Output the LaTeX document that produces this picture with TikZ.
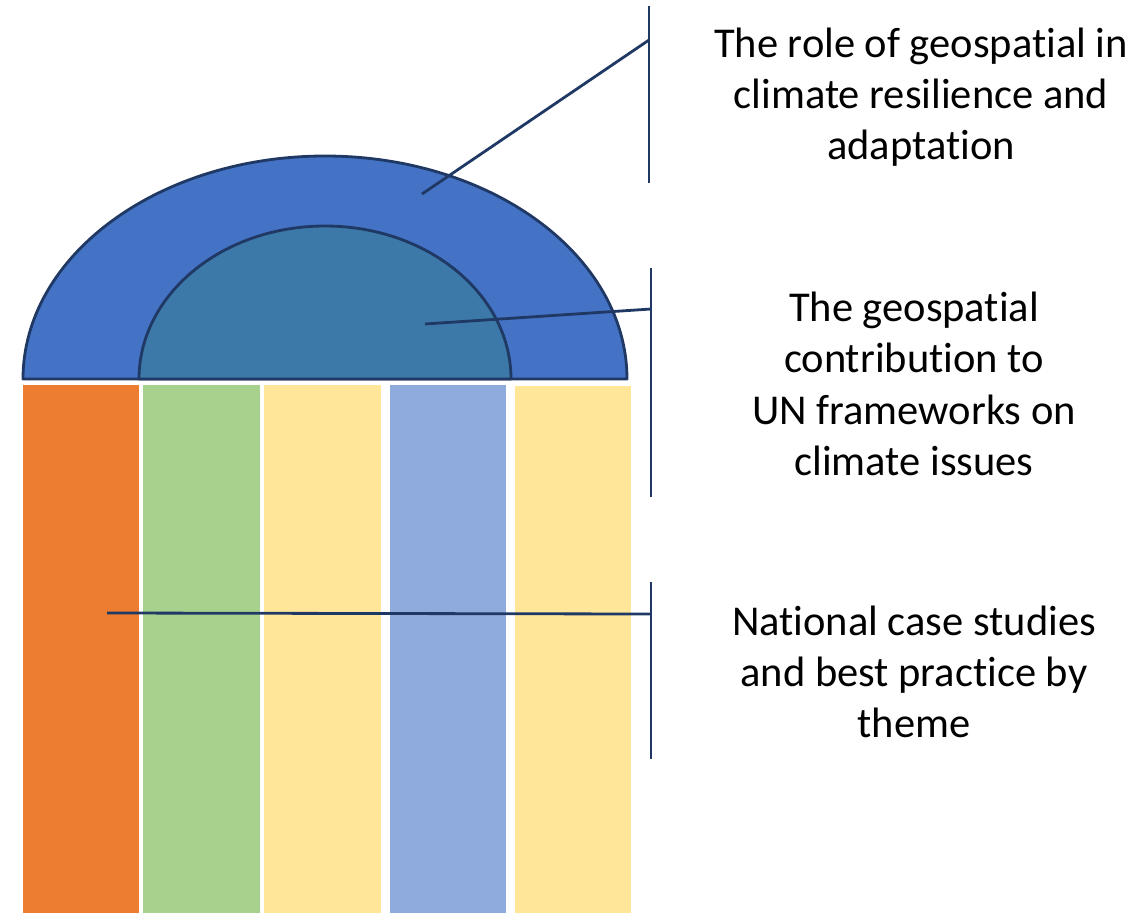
\documentclass[tikz,border=0pt]{standalone}
\usepackage{fontspec}
\setmainfont[Ligatures=NoCommon]{Carlito}
\definecolor{navy}{HTML}{1F3864}
\definecolor{outerblue}{HTML}{4472C4}
\definecolor{innerblue}{HTML}{3C79A9}
\definecolor{porange}{HTML}{ED7D31}
\definecolor{pgreen}{HTML}{A9D18E}
\definecolor{pyellow}{HTML}{FFE699}
\definecolor{pblue}{HTML}{8FAADC}
\newcommand{\nl}{\kern0pt }
\tikzset{
  pillar/.style={draw=none},
  archline/.style={draw=navy, line width=2.8pt, line join=round},
  callout/.style={draw=navy, line width=2.8pt},
  label/.style={align=center, font=\fontsize{42.5}{51.3}\selectfont, text=black, inner sep=0pt}
}
\begin{document}
\begin{tikzpicture}[x=1pt,y=1pt]
\useasboundingbox (0,0) rectangle (1145,-913);
% pillars
\fill[porange] (23,-385) rectangle (139,-913);
\fill[pgreen] (143,-385) rectangle (260,-913);
\fill[pyellow] (264,-385) rectangle (381,-913);
\fill[pblue] (390,-385) rectangle (506,-913);
\fill[pyellow] (515,-386) rectangle (631,-913);
% arches
\draw[archline, fill=outerblue] (23,-379) arc[start angle=180, end angle=0, x radius=302, y radius=223] -- cycle;
\draw[archline, fill=innerblue] (139,-379) arc[start angle=180, end angle=0, x radius=186, y radius=153] -- cycle;
% callout brackets
\coordinate (b1t) at (649,-6);
\coordinate (b1b) at (649,-183);
\coordinate (b1m) at (649,-40);
\coordinate (a1) at (422,-194);
\coordinate (b2t) at (651,-268);
\coordinate (b2b) at (651,-497);
\coordinate (b2m) at (651,-309);
\coordinate (a2) at (425,-324);
\coordinate (b3t) at (651,-582);
\coordinate (b3b) at (651,-759);
\coordinate (b3m) at (651,-614);
\coordinate (a3) at (107,-613);
\draw[callout] (b1t) -- (b1b);
\draw[callout] (a1) -- (b1m);
\draw[callout] (b2t) -- (b2b);
\draw[callout] (a2) -- (b2m);
\draw[callout] (b3t) -- (b3b);
\draw[callout] (a3) -- (b3m);
% labels
\node[label] (t1) at (921,-97) {The role of geospat\nl ial in\\climate resilience and\\adaptat\nl ion};
\node[label] (t2) at (914,-384) {The geospat\nl ial\\contribut\nl ion to\\UN frameworks on\\climate issues};
\node[label] (t3) at (914,-672) {Nat\nl ional case studies\\and best practice by\\theme};
\end{tikzpicture}
\end{document}
